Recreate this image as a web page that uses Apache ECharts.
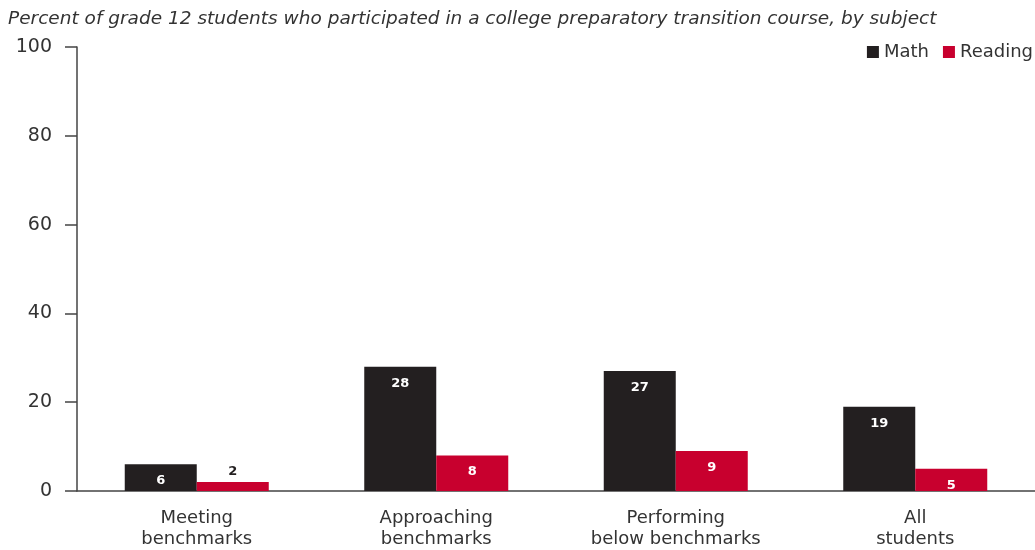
<!DOCTYPE html>
<html>
<head>
<meta charset="utf-8">
<script src="https://cdn.jsdelivr.net/npm/echarts@6/dist/echarts.min.js"></script>
<style>
  html, body { margin: 0; padding: 0; background: #fff; }
  #chart { width: 1035px; height: 550px; }
</style>
</head>
<body>
<div id="chart"></div>
<script>
// Participation in a college preparatory transition course, grade 12
const categories = ['Meeting\nbenchmarks', 'Approaching\nbenchmarks', 'Performing\nbelow benchmarks', 'All\nstudents'];
const mathValues = [6, 28, 27, 19];
const readingValues = [2, 8, 9, 5];
const yTicks = [0, 20, 40, 60, 80, 100];

const FONT = '"DejaVu Sans", "Liberation Sans", Arial, sans-serif';
const DARK = '#231f20';
const RED = '#c8002e';

// Bars too short to hold their number get the label above, in dark text
function withLabels(values, minInside) {
  return values.map(v => v < minInside
    ? { value: v, label: { position: 'top', color: DARK, distance: 4 } }
    : { value: v });
}

const chart = echarts.init(document.getElementById('chart'), null, { renderer: 'canvas' });
chart.setOption({
  animation: false,
  title: {
    text: 'Percent of grade 12 students who participated in a college preparatory transition course, by subject',
    left: 3, top: 5,
    textStyle: { fontFamily: FONT, fontStyle: 'italic', fontWeight: 'normal', fontSize: 18.5, color: '#333' }
  },
  legend: {
    right: 2, top: 43, padding: 0,
    itemWidth: 12, itemHeight: 12, itemGap: 14,
    icon: 'rect',
    textStyle: { fontFamily: FONT, fontSize: 18, color: '#333' },
    data: ['Math', 'Reading']
  },
  grid: { left: 77, right: 0, top: 47, bottom: 57, containLabel: false },
  xAxis: {
    type: 'category',
    data: categories,
    axisLine: { lineStyle: { color: '#444', width: 1.5 } },
    axisTick: { show: false },
    axisLabel: { fontFamily: FONT, fontSize: 18, color: '#333', lineHeight: 21, margin: 17 }
  },
  yAxis: {
    type: 'value',
    min: yTicks[0], max: yTicks[yTicks.length - 1], interval: 20,
    axisLine: { show: true, lineStyle: { color: '#444', width: 1.5 } },
    axisTick: { show: true, length: 12, lineStyle: { color: '#444', width: 1.5 } },
    axisLabel: { fontFamily: FONT, fontSize: 19, color: '#333', margin: 25 },
    splitLine: { show: false }
  },
  series: [
    {
      name: 'Math', type: 'bar',
      data: withLabels(mathValues, 4),
      itemStyle: { color: DARK },
      barWidth: 72, barGap: '0%',
      label: { show: true, position: 'insideTop', distance: 10, color: '#fff', fontFamily: FONT, fontWeight: 'bold', fontSize: 13 }
    },
    {
      name: 'Reading', type: 'bar',
      data: withLabels(readingValues, 4),
      itemStyle: { color: RED },
      barWidth: 72, barGap: '0%',
      label: { show: true, position: 'insideTop', distance: 10, color: '#fff', fontFamily: FONT, fontWeight: 'bold', fontSize: 13 }
    }
  ]
});
</script>
</body>
</html>
